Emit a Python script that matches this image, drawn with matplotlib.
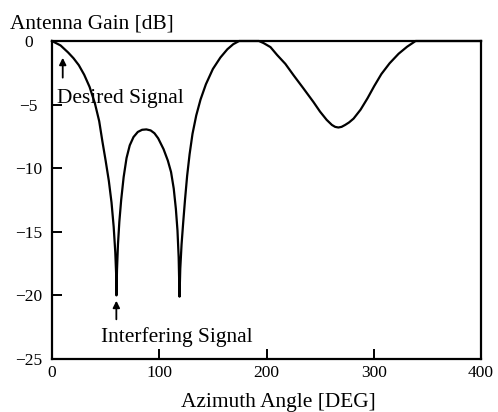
import matplotlib
matplotlib.use("Agg")
from matplotlib import pyplot as plt

# antenna pattern
azimuth = [0, 8, 15, 20, 25, 30, 35, 40, 44, 47, 50, 53, 55.5, 57.5, 59, 59.8, 60.1,
           60.6, 61.5, 62.8, 64.5, 66.8, 69.5, 72.5, 76, 80, 84, 88, 92, 95.5, 99,
           104, 108, 111, 113.5, 115.5, 117, 118.1, 118.9,
           119.6, 120.8, 122.3, 124, 126, 128.3, 131, 134.5, 138.5, 143.5, 150, 157, 163.5, 169, 174.5,
           192.9, 197.2, 203.7, 209.9, 217.6, 225.3, 234.2, 243.8, 249.9, 256.1, 261, 264, 267,
           270, 273.3, 277, 281.2, 287.7, 294.2, 300.4, 307.1, 314.8, 323.2, 331.1, 339, 400]
gain = [0, -0.35, -0.9, -1.35, -1.9, -2.65, -3.6, -4.9, -6.3, -7.9, -9.4, -11.0, -12.7, -14.6, -16.6, -18.3, -20.0,
        -18.0, -16.0, -14.2, -12.5, -10.7, -9.2, -8.2, -7.55, -7.15, -6.98, -6.95, -7.03, -7.25, -7.65,
        -8.5, -9.4, -10.3, -11.6, -13.2, -14.9, -17.0, -20.1,
        -17.9, -16.0, -14.3, -12.5, -10.6, -8.9, -7.3, -5.85, -4.6, -3.4, -2.2, -1.3, -0.65, -0.25, 0,
        0, -0.16, -0.48, -1.1, -1.8, -2.7, -3.7, -4.8, -5.55, -6.2, -6.6, -6.75, -6.8,
        -6.75, -6.6, -6.4, -6.1, -5.4, -4.5, -3.55, -2.6, -1.75, -1.0, -0.45, 0, 0]

xticks = [0, 100, 200, 300, 400]
yticks = [0, -5, -10, -15, -20, -25]

desired_az = 10
interfering_az = 60

plt.rcParams['font.family'] = ['Liberation Serif', 'DejaVu Serif']
big = 15.4

fig = plt.figure(figsize=(4.98, 4.12), dpi=100)
ax = fig.add_axes([52 / 498, 53 / 412, 429 / 498, 318 / 412])

ax.plot(azimuth, gain, color='black', lw=1.6, clip_on=False, zorder=3,
        solid_joinstyle='round')

ax.set_xlim(0, 400)
ax.set_ylim(-25, 0)
ax.set_xticks(xticks)
ax.set_yticks(yticks)
ax.tick_params(direction='in', length=7, width=1.4, labelsize=12.5)
ax.tick_params(axis='y', pad=17)
ax.tick_params(axis='x', pad=4)
for lab in ax.get_yticklabels():
    lab.set_horizontalalignment('center')
for s in ax.spines.values():
    s.set_linewidth(1.6)

# arrows + labels
ax.annotate('', xy=(desired_az, -1.1), xytext=(desired_az, -3.1),
            arrowprops=dict(arrowstyle='-|>', lw=1.3, color='black', mutation_scale=10))
ax.text((120 - 52) / 1.0725, -4.87, 'Desired Signal', ha='center', va='baseline', fontsize=big)
ax.annotate('', xy=(interfering_az, -20.2), xytext=(interfering_az, -22.1),
            arrowprops=dict(arrowstyle='-|>', lw=1.3, color='black', mutation_scale=10))
ax.text((176.5 - 52) / 1.0725, -23.7, 'Interfering Signal', ha='center', va='baseline', fontsize=big)

fig.text(91.5 / 498, 1 - 28 / 412, 'Antenna Gain [dB]', ha='center', va='baseline', fontsize=big)
fig.text(278.5 / 498, 1 - 407 / 412, 'Azimuth Angle [DEG]', ha='center', va='baseline', fontsize=big)

fig.savefig('out.png', dpi=100)
